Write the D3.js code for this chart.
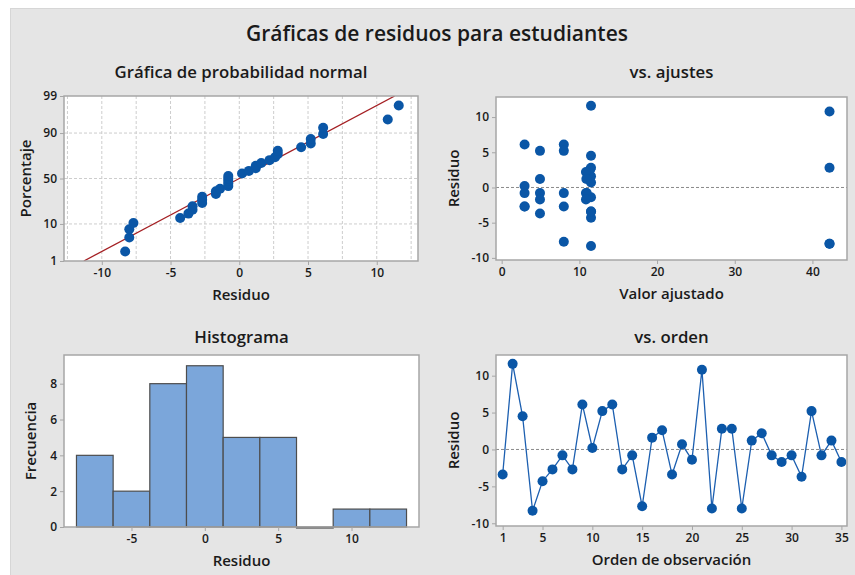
<!DOCTYPE html>
<html><head><meta charset="utf-8">
<script src="https://cdn.jsdelivr.net/npm/d3@7"></script>
<style>
html,body{margin:0;padding:0;background:#fff;}
text{font-family:"Open Sans","Noto Sans",sans-serif;}
</style></head>
<body>
<svg id="c" width="855" height="575"></svg>
<script>
// ---- data ----
const mainTitle = "Gráficas de residuos para estudiantes";
// residuals in observation order (1..35)
const residuals = [-3.4, 11.6, 4.5, -8.3, -4.3, -2.7, -0.8, -2.7, 6.1, 0.2,
  5.2, 6.1, -2.7, -0.8, -7.7, 1.6, 2.6, -3.4, 0.7, -1.4,
  10.8, -8.0, 2.8, 2.8, -8.0, 1.2, 2.2, -0.8, -1.7, -0.8,
  -3.7, 5.2, -0.8, 1.2, -1.7];
// fitted values for each observation
const fitted = [11.5, 11.5, 11.5, 11.5, 11.5, 2.95, 2.95, 8.0, 2.95, 2.95,
  4.93, 8.0, 2.95, 4.93, 8.0, 11.5, 11.4, 11.5, 11.5, 11.5,
  42.2, 42.2, 42.2, 11.5, 42.2, 4.93, 10.85, 8.0, 4.93, 10.85,
  4.93, 8.0, 10.95, 10.9, 10.85];
// fitted normal line on the probability plot (mean, std. dev.)
const normMean = 0.0;
const normSD = 4.86;
// histogram
const histEdges = [-8.75, -6.25, -3.75, -1.25, 1.25, 3.75, 6.25, 8.75, 11.25, 13.75];
const histCounts = [4, 2, 8, 9, 5, 5, 0, 1, 1];
// tick labels
const probTicks = [1, 10, 50, 90, 99];
const probXTicks = [-10, -5, 0, 5, 10];
const residTicks = [-10, -5, 0, 5, 10];
const fitTicks = [0, 10, 20, 30, 40];
const histXTicks = [-5, 0, 5, 10];
const histYTicks = [0, 2, 4, 6, 8];
const orderTicks = [1, 5, 10, 15, 20, 25, 30, 35];

// ---- styles ----
const C = {bg:"#e5e5e5", frame:"#a6a6a6", pt:"#0a56a6", line:"#a41f23", grid:"#cdcdcd",
  bar:"#7ba6da", barStroke:"#4d4d4d", ref:"#8a8a8a", text:"#1a1a1a", ser:"#1c5fb0"};

const svg = d3.select("#c");
svg.append("rect").attr("x",10).attr("y",8).attr("width",845).attr("height",567).attr("fill",C.bg);
svg.append("line").attr("x1",10).attr("x2",855).attr("y1",8.5).attr("y2",8.5).attr("stroke","#d6d6d6");
svg.append("line").attr("x1",10.5).attr("x2",10.5).attr("y1",8).attr("y2",575).attr("stroke","#d6d6d6");

svg.append("text").attr("x",437).attr("y",41).attr("text-anchor","middle")
  .attr("font-size",21).attr("font-weight",600).attr("fill",C.text).text(mainTitle);

// inverse normal CDF (Acklam)
function qnorm(p){
  const a=[-3.969683028665376e+01,2.209460984245205e+02,-2.759285104469687e+02,1.383577518672690e+02,-3.066479806614716e+01,2.506628277459239e+00];
  const b=[-5.447609879822406e+01,1.615858368580409e+02,-1.556989798598866e+02,6.680131188771972e+01,-1.328068155288572e+01];
  const c=[-7.784894002430293e-03,-3.223964580411365e-01,-2.400758277161838e+00,-2.549732539343734e+00,4.374664141464968e+00,2.938163982698783e+00];
  const d=[7.784695709041462e-03,3.224671290700398e-01,2.445134137142996e+00,3.754408661907416e+00];
  const pl=0.02425;
  if(p<pl){const q=Math.sqrt(-2*Math.log(p));return (((((c[0]*q+c[1])*q+c[2])*q+c[3])*q+c[4])*q+c[5])/((((d[0]*q+d[1])*q+d[2])*q+d[3])*q+1);}
  if(p>1-pl){const q=Math.sqrt(-2*Math.log(1-p));return -(((((c[0]*q+c[1])*q+c[2])*q+c[3])*q+c[4])*q+c[5])/((((d[0]*q+d[1])*q+d[2])*q+d[3])*q+1);}
  const q=p-0.5,r=q*q;
  return (((((a[0]*r+a[1])*r+a[2])*r+a[3])*r+a[4])*r+a[5])*q/(((((b[0]*r+b[1])*r+b[2])*r+b[3])*r+b[4])*r+1);
}

function panel(box, title, tOff){
  const g = svg.append("g");
  g.append("rect").attr("x",box.x0).attr("y",box.y0).attr("width",box.x1-box.x0).attr("height",box.y1-box.y0)
    .attr("fill","#fff");
  g.append("text").attr("x",(box.x0+box.x1)/2).attr("y",box.y0-tOff).attr("text-anchor","middle")
    .attr("font-size",16.8).attr("font-weight",600).attr("fill",C.text).text(title);
  return g;
}
function frame(g, box){
  g.append("rect").attr("x",box.x0).attr("y",box.y0).attr("width",box.x1-box.x0).attr("height",box.y1-box.y0)
    .attr("fill","none").attr("stroke",C.frame).attr("stroke-width",1.5);
}
function axes(g, box, xs, ys, xt, yt, xfmt, yfmt, xlab, ylab, ylabX){
  const ax = g.append("g").attr("transform",`translate(0,${box.y1})`)
    .call(d3.axisBottom(xs).tickValues(xt).tickSize(4).tickPadding(3).tickFormat(xfmt||(d=>d)));
  const ay = g.append("g").attr("transform",`translate(${box.x0},0)`)
    .call(d3.axisLeft(ys).tickValues(yt).tickSize(4).tickPadding(3).tickFormat(yfmt||(d=>d)));
  [ax,ay].forEach(a=>{
    a.select(".domain").remove();
    a.selectAll(".tick line").attr("stroke",C.frame);
    a.selectAll(".tick text").attr("font-size",12).attr("font-weight",600).attr("fill",C.text)
      .style("font-family","'Open Sans',sans-serif");
  });
  g.append("text").attr("x",(box.x0+box.x1)/2).attr("y",box.y1+39).attr("text-anchor","middle")
    .attr("font-size",15).attr("font-weight",600).attr("fill",C.text).text(xlab);
  g.append("text").attr("transform",`translate(${ylabX},${(box.y0+box.y1)/2}) rotate(-90)`)
    .attr("text-anchor","middle").attr("font-size",15).attr("font-weight",600).attr("fill",C.text).text(ylab);
}
function clip(id, box){
  svg.append("clipPath").attr("id",id).append("rect").attr("x",box.x0).attr("y",box.y0)
    .attr("width",box.x1-box.x0).attr("height",box.y1-box.y0);
}

// ---------- Panel 1: normal probability ----------
{
  const box={x0:64,x1:418,y0:96,y1:261};
  const g=panel(box,"Gráfica de probabilidad normal",18);
  const x=d3.scaleLinear().domain([-12.75,13.0]).range([box.x0,box.x1]);
  const y=d3.scaleLinear().domain([qnorm(0.01),qnorm(0.99)]).range([box.y1,box.y0]);
  g.append("g").selectAll("line").data(d3.range(-12.5,13,2.5)).join("line")
    .attr("x1",d=>x(d)).attr("x2",d=>x(d)).attr("y1",box.y0).attr("y2",box.y1)
    .attr("stroke",C.grid).attr("stroke-dasharray","3,2");
  g.append("g").selectAll("line").data([10,50,90]).join("line")
    .attr("x1",box.x0).attr("x2",box.x1).attr("y1",d=>y(qnorm(d/100))).attr("y2",d=>y(qnorm(d/100)))
    .attr("stroke",C.grid).attr("stroke-dasharray","3,2");
  const sorted=residuals.slice().sort(d3.ascending);
  const n=sorted.length;
  clip("cp1",box);
  const z1=qnorm(0.01), z2=qnorm(0.99);
  g.append("line").attr("clip-path","url(#cp1)")
    .attr("x1",x(normMean+normSD*z1)).attr("y1",y(z1)).attr("x2",x(normMean+normSD*z2)).attr("y2",y(z2))
    .attr("stroke",C.line).attr("stroke-width",1.3);
  g.append("g").selectAll("circle").data(sorted).join("circle")
    .attr("cx",d=>x(d)).attr("cy",(d,i)=>y(qnorm((i+1-0.3)/(n+0.4)))).attr("r",5).attr("fill",C.pt);
  frame(g,box);
  axes(g,box,x,y,probXTicks,probTicks.map(p=>qnorm(p/100)),null,(d,i)=>probTicks[i],"Residuo","Porcentaje",31);
}

// ---------- Panel 2: vs fits ----------
{
  const box={x0:496,x1:847,y0:97,y1:260};
  const g=panel(box,"vs. ajustes",19);
  const x=d3.scaleLinear().domain([-0.73,44.45]).range([box.x0,box.x1]);
  const y=d3.scaleLinear().domain([-10.3,12.85]).range([box.y1,box.y0]);
  g.append("line").attr("x1",box.x0).attr("x2",box.x1).attr("y1",y(0)).attr("y2",y(0))
    .attr("stroke",C.ref).attr("stroke-dasharray","3,2");
  g.append("g").selectAll("circle").data(residuals).join("circle")
    .attr("cx",(d,i)=>x(fitted[i])).attr("cy",d=>y(d)).attr("r",5).attr("fill",C.pt);
  frame(g,box);
  axes(g,box,x,y,fitTicks,residTicks,null,null,"Valor ajustado","Residuo",459);
}

// ---------- Panel 3: histogram ----------
{
  const box={x0:64,x1:419,y0:355,y1:527};
  const g=panel(box,"Histograma",12);
  const x=d3.scaleLinear().domain([-9.6,14.6]).range([box.x0,box.x1]);
  const y=d3.scaleLinear().domain([0,9.6]).range([box.y1,box.y0]);
  const bins=histCounts.map((c,i)=>({x0:histEdges[i],x1:histEdges[i+1],c}));
  g.append("g").selectAll("rect").data(bins).join("rect")
    .attr("x",d=>x(d.x0)).attr("width",d=>x(d.x1)-x(d.x0))
    .attr("y",d=>y(d.c)).attr("height",d=>Math.max(1,y(0)-y(d.c)))
    .attr("fill",C.bar).attr("stroke",C.barStroke).attr("stroke-width",1.2);
  frame(g,box);
  axes(g,box,x,y,histXTicks,histYTicks,null,null,"Residuo","Frecuencia",36);
}

// ---------- Panel 4: vs order ----------
{
  const box={x0:496,x1:847,y0:355,y1:526};
  const g=panel(box,"vs. orden",12);
  const x=d3.scaleLinear().domain([0.33,35.56]).range([box.x0,box.x1]);
  const y=d3.scaleLinear().domain([-10.37,12.8]).range([box.y1,box.y0]);
  g.append("line").attr("x1",box.x0).attr("x2",box.x1).attr("y1",y(0)).attr("y2",y(0))
    .attr("stroke",C.ref).attr("stroke-dasharray","3,2");
  g.append("path").datum(residuals)
    .attr("d",d3.line().x((d,i)=>x(i+1)).y(d=>y(d)))
    .attr("fill","none").attr("stroke",C.ser).attr("stroke-width",1.3);
  g.append("g").selectAll("circle").data(residuals).join("circle")
    .attr("cx",(d,i)=>x(i+1)).attr("cy",d=>y(d)).attr("r",5).attr("fill",C.pt);
  frame(g,box);
  axes(g,box,x,y,orderTicks,residTicks,null,null,"Orden de observación","Residuo",459);
}
</script>
</body></html>
